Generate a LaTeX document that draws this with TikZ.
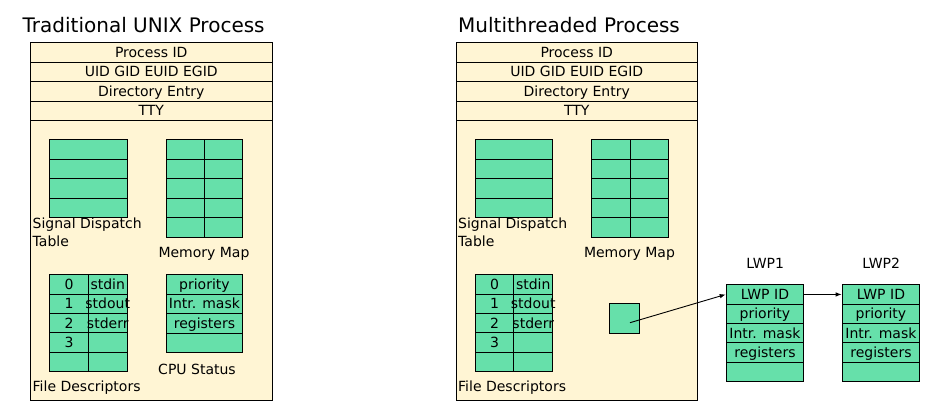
\documentclass[tikz,border=0pt]{standalone}
\usepackage{fontspec}
\setmainfont{DejaVu Sans}
\usetikzlibrary{arrows.meta}
\definecolor{crema}{HTML}{FFF5D4}
\definecolor{menta}{HTML}{66E0AA}
\begin{document}
\begin{tikzpicture}[
    x=1pt, y=-1pt,
    font=\fontsize{14}{17}\selectfont,
    % Estilos de los bloques
    proc box/.style={
        draw=black,
        fill=crema,
        line width=1pt,
        anchor=north west,
        inner sep=0pt,
        minimum width=241.5pt,
        minimum height=357.7pt
    },
    proc row/.style={
        draw=black,
        fill=crema,
        line width=1pt,
        anchor=north west,
        inner sep=0pt,
        minimum width=241.5pt,
        minimum height=19.4pt,
        text height=12pt,
        text depth=2pt
    },
    cell/.style={
        draw=black,
        fill=menta,
        line width=0.9pt,
        anchor=north west,
        inner sep=0pt,
        minimum height=19.4pt,
        text height=12pt,
        text depth=2pt
    },
    title label/.style={
        font=\fontsize{20}{24}\selectfont,
        anchor=base west,
        inner sep=0pt
    },
    table label/.style={
        inner sep=0pt
    },
    link/.style={
        line width=0.9pt,
        -{Latex[length=6pt, width=4.5pt]}
    }
]
    \useasboundingbox (0,0) rectangle (938,410);

    % --- COORDENADAS Y DE LAS FILAS ---
    \def\yTop{42.3}
    \def\hRow{19.4}
    \def\ySig{139.3}
    \def\yFd{274.3}

    % --- TITULOS ---
    \node[title label] (titulo-trad) at (22.5, 32.3) {Traditional UNIX Process};
    \node[title label] (titulo-multi) at (458, 32) {Multithreaded Process};

    % --- PROCESOS (TRADICIONAL Y MULTIHILO) ---
    \foreach \xP/\id in {30/trad, 455.5/multi} {
        % Caja del proceso y cabecera
        \node[proc box] (box-\id) at (\xP, \yTop) {};
        \foreach \t [count=\i from 0] in {Process ID, UID GID EUID EGID, Directory Entry, TTY}
            \node[proc row] (hdr-\id-\i) at ({\xP}, {\yTop+\hRow*\i}) {\t};

        % Tabla de senales
        \foreach \r in {0,...,3}
            \node[cell, minimum width=77.4pt] (sig-\id-\r) at ({\xP+19.3}, {\ySig+19.5*\r}) {};
        \node[table label, anchor=north west, align=left, font=\fontsize{14}{18}\selectfont]
            (sig-lbl-\id) at ({\xP+2.5}, 217.6) {Signal Dispatch\\Table};

        % Mapa de memoria
        \foreach \r in {0,...,4}
            \foreach \c in {0,1}
                \node[cell, minimum width=38.3pt] (mem-\id-\r-\c) at ({\xP+135.7+38.3*\c}, {\ySig+19.5*\r}) {};
        \node[table label, anchor=base] (mem-lbl-\id) at ({\xP+174}, 257.8) {Memory Map};

        % Descriptores de fichero (el texto puede salirse de la celda)
        \foreach \n/\f [count=\r from 0] in {0/stdin, 1/stdout, 2/stderr, 3/, /} {
            \node[cell, minimum width=38.5pt] (fd-\id-\r-0) at ({\xP+19.3}, {\yFd+19.35*\r}) {\n};
            \node[cell, minimum width=39pt] (fd-\id-\r-1) at ({\xP+57.8}, {\yFd+19.35*\r}) {\makebox[0pt]{\f}};
        }
        \node[table label, anchor=base west] (fd-lbl-\id) at ({\xP+2.5}, 391) {File Descriptors};
    }

    % --- ESTADO DE CPU (SOLO PROCESO TRADICIONAL) ---
    \foreach \t [count=\r from 0] in {priority, Intr. mask, registers, {}}
        \node[cell, minimum width=76.6pt] (cpu-\r) at (165.7, {\yFd+\hRow*\r}) {\t};
    \node[table label, anchor=base] (cpu-lbl) at (197, 374) {CPU Status};

    % --- LWP ---
    \node[cell, minimum width=30pt, minimum height=30pt] (lwp-ref) at (609.3, 303.3) {};
    \foreach \xL/\k in {725.7/1, 841.7/2} {
        \node[table label, anchor=base] (lwp\k-lbl) at ({\xL+39.5}, 268.3) {LWP\k};
        \foreach \t [count=\r from 0] in {LWP ID, priority, Intr. mask, registers, {}}
            \node[cell, minimum width=77.6pt] (lwp\k-\r) at ({\xL}, {284.3+19.35*\r}) {\t};
    }

    % Enlaces entre LWP
    \coordinate (ref-out) at (630, 322.7);
    \draw[link] (ref-out) -- (lwp1-0.west);
    \draw[link] (lwp1-0.east) -- (lwp2-0.west);

\end{tikzpicture}
\end{document}
